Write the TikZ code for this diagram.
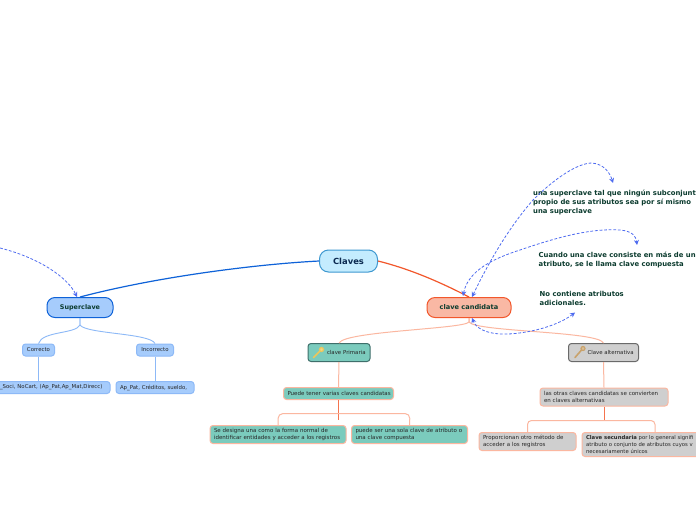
\documentclass[tikz,border=0pt]{standalone}
\usepackage{fontspec}
\setmainfont{DejaVu Sans}
\usetikzlibrary{arrows.meta}
\definecolor{rootfill}{HTML}{C4ECFE}
\definecolor{rootline}{HTML}{3E98D0}
\definecolor{bluefill}{HTML}{A6CCFC}
\definecolor{blueline}{HTML}{0E62D8}
\definecolor{subline}{HTML}{8DB9F7}
\definecolor{orgfill}{HTML}{F9B8A4}
\definecolor{orgline}{HTML}{F2572B}
\definecolor{peach}{HTML}{FBB7A0}
\definecolor{teal}{HTML}{7BCBBD}
\definecolor{tealline}{HTML}{3F6F6B}
\definecolor{greyf}{HTML}{CFCFCF}
\definecolor{greyl}{HTML}{6A6A6A}
\definecolor{darkgreen}{HTML}{0B3B2E}
\definecolor{navy}{HTML}{0B2A50}
\definecolor{dashc}{HTML}{4F6CF0}
\definecolor{keyy}{HTML}{EDC65A}
\definecolor{keyb}{HTML}{C9A26B}
\tikzset{
  box/.style={rounded corners=#1,inner ysep=0pt,inner xsep=4pt,line width=1pt},
  box/.default=3pt,
  lab/.style={font=\fontsize{5.5}{7.2}\selectfont,text=black!85,align=left},
  smallab/.style={font=\fontsize{5.4}{7}\selectfont,text=black!85,align=left},
  bluesub/.style={box,draw=subline,fill=bluefill,smallab},
  tealbox/.style={box,draw=peach,fill=teal,lab},
  greybox/.style={box,draw=peach,fill=greyf,lab},
  side/.style={font=\bfseries\fontsize{6.85}{9}\selectfont,text=darkgreen,align=left,anchor=north west,inner sep=0pt},
  dashlink/.style={draw=dashc,dash pattern=on 2.8pt off 1.8pt,line width=.8pt,{Stealth[length=5pt,width=5pt]}-{Stealth[length=5pt,width=5pt]}},
  dashend/.style={draw=dashc,dash pattern=on 2.8pt off 1.8pt,line width=.8pt,-{Stealth[length=5pt,width=5pt]}},
  peachlink/.style={draw=peach,line width=1pt},
  bluelink/.style={draw=subline,line width=.9pt},
}
\begin{document}
\begin{tikzpicture}[x=1pt,y=-1pt]
\useasboundingbox (0,0) rectangle (696,520);
\fill[white] (0,0) rectangle (696,520);
% main nodes
\node[box=9pt,draw=rootline,fill=rootfill,minimum width=58pt,minimum height=22pt,font=\bfseries\fontsize{8.4}{10}\selectfont,text=navy] (root) at (348.5,261) {Claves};
\node[box=8pt,draw=blueline,fill=bluefill,minimum width=66pt,minimum height=20pt,font=\bfseries\fontsize{6.4}{8}\selectfont,text=darkgreen] (super) at (80,307.5) {Superclave};
\node[box=8pt,draw=orgline,fill=orgfill,minimum width=84pt,minimum height=20pt,font=\bfseries\fontsize{6.6}{8}\selectfont,text=darkgreen] (cand) at (469,307.5) {clave candidata};
% blue children
\node[bluesub,minimum width=32pt,minimum height=12pt] (corr) at (38.5,350) {Correcto};
\node[bluesub,minimum width=37pt,minimum height=12pt] (inc) at (155,350) {Incorrecto};
\node[bluesub,text width=106pt,minimum height=12pt] (soci) at (53,387.5) {\raisebox{-1pt}{\mbox{\_Soci, NoCart, (Ap\_Pat,Ap\_Mat,Direcc)}}};
\node[bluesub,text width=70pt,minimum height=12pt] (apat) at (155,387.5) {\raisebox{-1pt}{\mbox{Ap\_Pat, Créditos, sueldo,}}};
% teal branch
\node[box,draw=tealline,fill=teal,smallab,text width=54pt,minimum height=18pt] (prim) at (339,352.5) {\mbox{\hspace*{15pt}clave Primaria}};
\draw[keyy,line width=1.6pt,line cap=round] (313.5,357.5) -- (320,351);
\draw[keyy,line width=1.2pt,fill=keyy!70] (321.5,349.5) circle (2pt);
\node[tealbox,text width=102pt,minimum height=12pt] (tiene) at (338.5,393.5) {\mbox{Puede tener varias claves candidatas}};
\node[tealbox,text width=128pt,minimum height=18pt] (desig) at (278,434.5) {\mbox{Se designa una como la forma normal de}\\\mbox{identificar entidades y acceder a los registros}};
\node[tealbox,text width=108pt,minimum height=18pt] (sola) at (409.5,434.5) {\mbox{puede ser una sola clave de atributo o}\\\mbox{una clave compuesta}};
% grey branch
\node[box,draw=greyl,fill=greyf,smallab,text width=62pt,minimum height=18pt] (alt) at (603.5,352.5) {\mbox{\hspace*{15pt}Clave alternativa}};
\draw[keyb,line width=1.6pt,line cap=round] (575,357.5) -- (581.5,350);
\draw[keyb,line width=1.2pt,fill=keyb!70] (583,348.5) circle (2pt);
\node[greybox,text width=120pt,minimum height=18pt] (otras) at (604,397) {\mbox{las otras claves candidatas se convierten}\\\mbox{en claves alternativas}};
\node[greybox,text width=89pt,minimum height=18pt] (prop) at (527.5,441.5) {\mbox{Proporcionan otro método de}\\\mbox{acceder a los registros}};
\node[greybox,font=\fontsize{5.3}{7.2}\selectfont,text width=122pt,minimum height=24pt] (secu) at (647,444.5) {\mbox{\textbf{Clave secundaria} por lo general signifi}\\\mbox{atributo o conjunto de atributos cuyos v}\\\mbox{necesariamente únicos}};
% free text
\node[side] (t1) at (533,189.5) {una superclave tal que ningún subconjunt\\propio de sus atributos sea por sí mismo\\una superclave};
\node[side] (t2) at (538.5,251.5) {Cuando una clave consiste en más de un\\atributo, se le llama clave compuesta};
\node[side] (t3) at (539.5,291.5) {No contiene atributos\\adicionales.};
% named free ends
\coordinate (off) at (0,248);
\coordinate (e1) at (613,183);
\coordinate (e2) at (637,245);
\coordinate (e3) at (575,312.5);
% main links
\draw[blueline,line width=1.2pt] (root.west) .. controls (260,264) and (160,276) .. (super.north);
\draw[orgline,line width=1.2pt] (root.east) .. controls (410,269) and (440,282) .. (cand.north);
% blue sub links
\draw[bluelink] (super.south) -- ++(0,7) .. controls (76,334) and (42,331) .. (corr.north);
\draw[bluelink] (super.south) -- ++(0,7) .. controls (86,334) and (150,333) .. (inc.north);
\draw[bluelink] (corr.south) -- (corr.south |- soci.north);
\draw[bluelink] (inc.south) -- (apat.north);
% peach links
\draw[peachlink] (cand.south) -- ++(0,4) .. controls (464,329) and (345,331) .. (prim.north);
\draw[peachlink] (cand.south) -- ++(0,4) .. controls (476,332) and (598,331) .. (alt.north);
\draw[peachlink] (prim.south) -- (tiene.north);
\draw[orgline!70!peach,line width=.9pt] (tiene.south) -- ++(0,20);
\draw[peachlink,rounded corners=5pt] (desig.north) -- (278,413.5) -- (410,413.5) -- (sola.north);
\draw[peachlink] (alt.south) -- (otras.north);
\draw[orgline!70!peach,line width=.9pt] (otras.south) -- ++(0,14.5);
\draw[peachlink,rounded corners=4pt] (prop.north) -- (527.5,420.5) -- (655,420.5) -- (655,432.5);
% dashed links
\draw[dashend] (off) .. controls (40,258) and (68,278) .. (77,297);
\draw[dashlink] (472,297) .. controls (485,270) and (505,232) .. (533,200) .. controls (555,178) and (578,163) .. (592,163) .. controls (604,164) and (610,173) .. (e1);
\draw[dashlink] (463,296) .. controls (468,270) and (495,258) .. (520,250) .. controls (555,238) and (590,228) .. (620,230) .. controls (632,231) and (636,236) .. (e2);
\draw[dashlink] (e3) .. controls (555,328) and (520,335) .. (500,334) .. controls (485,333) and (476,328) .. (472,318);
\end{tikzpicture}
\end{document}
